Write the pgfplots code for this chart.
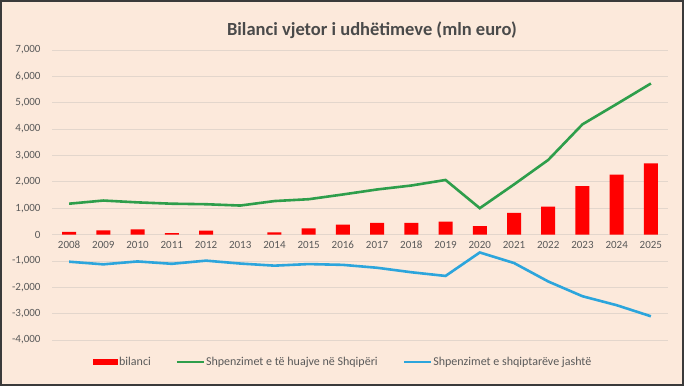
\documentclass[border=0pt]{standalone}
\usepackage{pgfplots}
\pgfplotsset{compat=1.18}
\usepackage{fontspec}
\setmainfont{Carlito}
\definecolor{bg}{HTML}{FCE9DB}
\definecolor{gridc}{HTML}{E3D6CC}
\definecolor{txt}{HTML}{595959}
\definecolor{ttl}{HTML}{4A4A4A}
\definecolor{gr}{HTML}{2E9E4B}
\definecolor{bl}{HTML}{2CA5DC}
\definecolor{frame}{HTML}{3A3A3A}
\pgfplotstableread{
x bil green blue
0 100 1170 -1030
1 160 1290 -1130
2 200 1220 -1020
3 50 1170 -1110
4 150 1150 -990
5 nan 1100 -1100
6 80 1270 -1180
7 230 1340 -1120
8 380 1520 -1150
9 440 1710 -1260
10 440 1860 -1430
11 490 2070 -1570
12 320 1000 -680
13 820 1900 -1080
14 1060 2830 -1780
15 1840 4180 -2340
16 2270 4950 -2680
17 2700 5730 -3100
}\data
\begin{document}
\begin{tikzpicture}
\fill[bg] (0,0) rectangle (684bp,386bp);
\draw[frame, line width=2bp] (1bp,1bp) rectangle (683bp,385bp);
\node[font=\bfseries\fontsize{18.5bp}{22bp}\selectfont, text=ttl] at (372bp,356bp) {Bilanci vjetor i udhëtimeve (mln euro)};
\begin{axis}[
  at={(52bp,46bp)}, anchor=south west,
  scale only axis, width=616bp, height=290bp,
  xmin=-0.5, xmax=17.5, ymin=-4000, ymax=7000,
  ytick={-4000,-3000,...,7000},
  xtick={0,...,17},
  xticklabels={2008,2009,2010,2011,2012,2013,2014,2015,2016,2017,2018,2019,2020,2021,2022,2023,2024,2025},
  axis x line=middle, axis y line=left,
  x axis line style={-, draw=gridc, line width=0.8bp},
  y axis line style={draw=none},
  major tick length=0,
  ymajorgrids, grid style={gridc, line width=0.8bp},
  tick label style={font=\fontsize{11bp}{13bp}\selectfont, text=txt},
  xticklabel style={yshift=-3bp},
  yticklabel style={xshift=-8bp},
  /pgf/number format/assume math mode=true,
  /pgf/number format/1000 sep={,},
  legend style={at={(0.472,-0.076)}, anchor=center, draw=none, fill=none,
    font=\fontsize{12bp}{14bp}\selectfont, text=txt, legend columns=3,
    nodes={inner xsep=1bp},
    /tikz/every even column/.append style={column sep=24bp}},
  clip=false,
]
\addplot[ybar, bar width=14bp, fill=red, draw=none,
  legend image code/.code={\fill[red] (0bp,-3bp) rectangle (25bp,3bp);}]
  table[x=x, y=bil] {\data};
\addlegendentry{bilanci}
\addplot[gr, line width=2.6bp, mark=none,
  legend image code/.code={\draw[gr, line width=2.2bp] (0bp,0bp) -- (27bp,0bp);}]
  table[x=x, y=green] {\data};
\addlegendentry{Shpenzimet e të huajve në Shqipëri}
\addplot[bl, line width=2.6bp, mark=none,
  legend image code/.code={\draw[bl, line width=2.6bp] (0bp,0bp) -- (27bp,0bp);}]
  table[x=x, y=blue] {\data};
\addlegendentry{Shpenzimet e shqiptarëve jashtë}
\end{axis}
\end{tikzpicture}
\end{document}
